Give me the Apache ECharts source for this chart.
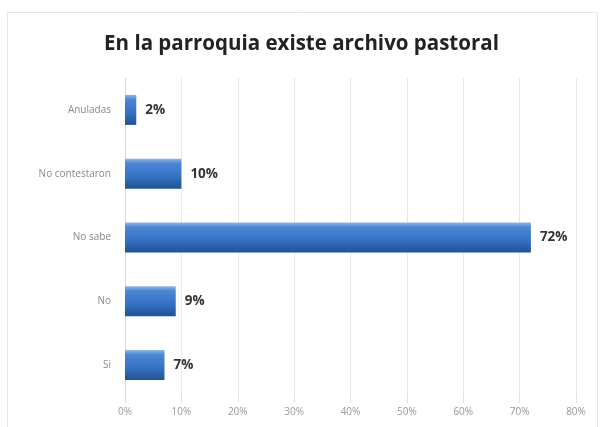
<!DOCTYPE html>
<html><head><meta charset="utf-8">
<script src="https://cdn.jsdelivr.net/npm/echarts@6/dist/echarts.min.js"></script>
<style>html,body{margin:0;padding:0;background:#fff}#c{width:603px;height:427px}</style>
</head><body><div id="c"></div>
<script>
const categories = ["Si", "No", "No sabe", "No contestaron", "Anuladas"];
const values = [7, 9, 72, 10, 2];
const ticks = [0, 10, 20, 30, 40, 50, 60, 70, 80];

const chart = echarts.init(document.getElementById('c'));
chart.setOption({
  animation: false,
  backgroundColor: '#fff',
  title: {
    text: 'En la parroquia existe archivo pastoral',
    left: 'center', top: 29,
    textStyle: { fontFamily: 'Open Sans', fontWeight: 'bold', fontSize: 20.5, color: '#222' }
  },
  graphic: [{
    type: 'rect', shape: { x: 7.5, y: 12.5, width: 590, height: 420 },
    style: { fill: 'none', stroke: '#e6e6e6', lineWidth: 1 }, silent: true
  }],
  grid: { left: 125, right: 27, top: 78, bottom: 30, containLabel: false },
  xAxis: {
    type: 'value', min: ticks[0], max: ticks[ticks.length - 1], interval: 10,
    axisLabel: { formatter: v => v + '%', color: '#999', fontSize: 10, fontFamily: 'Open Sans', margin: 10 },
    splitLine: { show: true, lineStyle: { color: '#e8e8e8' } },
    axisLine: { show: false },
    axisTick: { show: true, length: 6, lineStyle: { color: '#e0e0e0' } }
  },
  yAxis: {
    type: 'category', data: categories,
    axisLabel: { color: '#888', fontSize: 10, fontFamily: 'Open Sans', margin: 14 },
    axisLine: { show: true, lineStyle: { color: '#d8d8d8' } },
    axisTick: { show: false }
  },
  series: [{
    type: 'bar', data: values, barWidth: 30,
    itemStyle: {
      color: new echarts.graphic.LinearGradient(0, 0, 0, 1, [
        { offset: 0, color: '#8ab8ef' },
        { offset: 0.15, color: '#4a88d6' },
        { offset: 0.6, color: '#3471c2' },
        { offset: 1, color: '#22528f' }
      ])
    },
    label: {
      show: true, position: 'right', distance: 9,
      formatter: p => p.value + '%',
      fontFamily: 'Open Sans', fontWeight: 'bold', fontSize: 13.5, color: '#333'
    }
  }]
});
</script></body></html>
